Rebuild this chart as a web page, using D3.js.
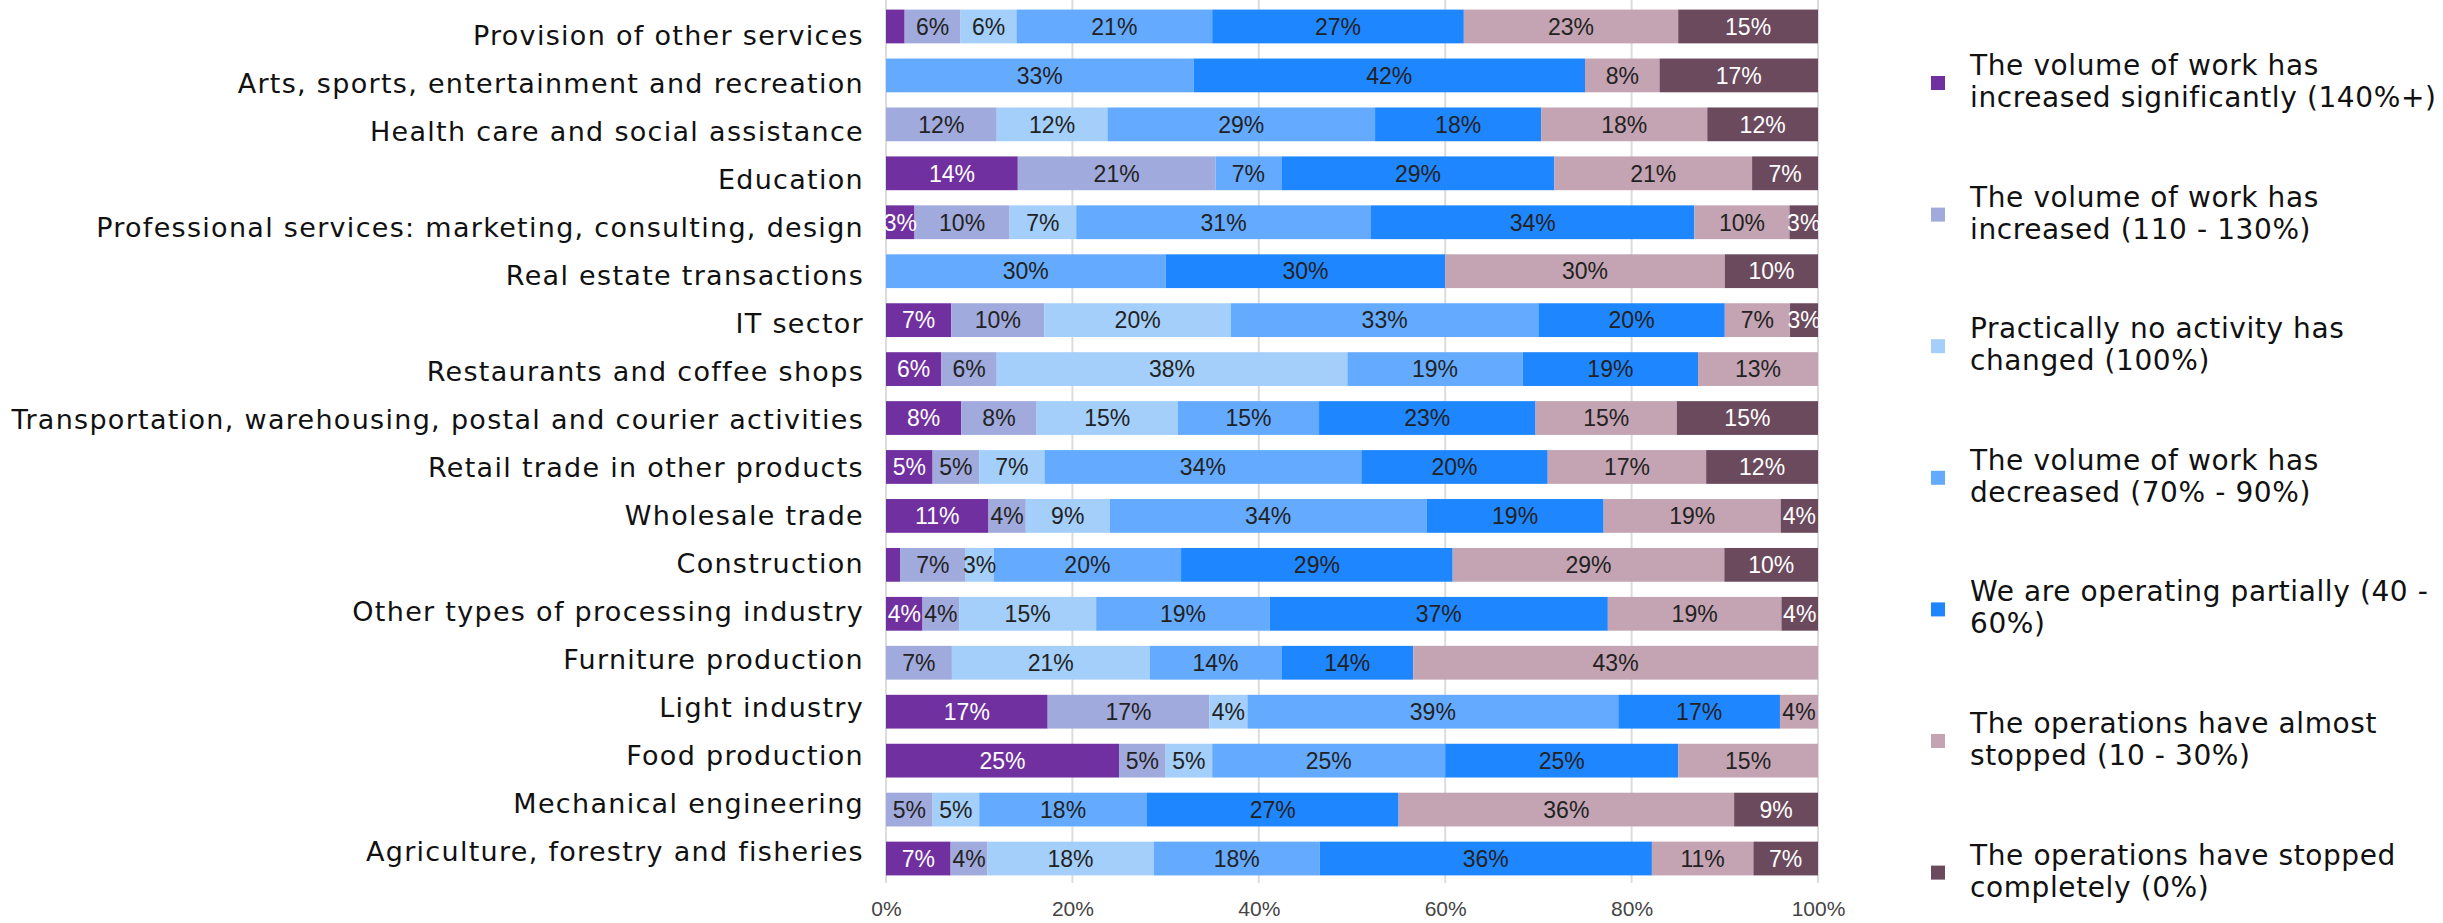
<!DOCTYPE html>
<html>
<head>
<meta charset="utf-8">
<script src="https://cdn.jsdelivr.net/npm/d3@7"></script>
<style>
  body { margin: 0; background: #fff; }
  .cat { font-family: "DejaVu Sans", sans-serif; font-size: 27px; letter-spacing: 1.3px; fill: #111; }
  .leg { font-family: "DejaVu Sans", sans-serif; font-size: 28px; letter-spacing: 0.6px; fill: #111; }
  .val { font-family: "Liberation Sans", Arial, sans-serif; font-size: 23px; }
  .tick text { font-family: "Liberation Sans", Arial, sans-serif; font-size: 21px; fill: #444; }
</style>
</head>
<body>
<div id="plot"></div>
<script>
// categories, top to bottom
const categories = [
  "Provision of other services",
  "Arts, sports, entertainment and recreation",
  "Health care and social assistance",
  "Education",
  "Professional services: marketing, consulting, design",
  "Real estate transactions",
  "IT sector",
  "Restaurants and coffee shops",
  "Transportation, warehousing, postal and courier activities",
  "Retail trade in other products",
  "Wholesale trade",
  "Construction",
  "Other types of processing industry",
  "Furniture production",
  "Light industry",
  "Food production",
  "Mechanical engineering",
  "Agriculture, forestry and fisheries"
];

// series values (% of respondents), same order as categories
const sigIncreased   = [2, 0, 0, 14, 3, 0, 7, 6, 8, 5, 11, 1.5, 4, 0, 17, 25, 0, 7];
const increased      = [6, 0, 12, 21, 10, 0, 10, 6, 8, 5, 4, 7, 4, 7, 17, 5, 5, 4];
const noChange       = [6, 0, 12, 0, 7, 0, 20, 38, 15, 7, 9, 3, 15, 21, 4, 5, 5, 18];
const decreased      = [21, 33, 29, 7, 31, 30, 33, 19, 15, 34, 34, 20, 19, 14, 39, 25, 18, 18];
const partially      = [27, 42, 18, 29, 34, 30, 20, 19, 23, 20, 19, 29, 37, 14, 17, 25, 27, 36];
const almostStopped  = [23, 8, 18, 21, 10, 30, 7, 13, 15, 17, 19, 29, 19, 43, 4, 15, 36, 11];
const stopped        = [15, 17, 12, 7, 3, 10, 3, 0, 15, 12, 4, 10, 4, 0, 0, 0, 9, 7];

const seriesKeys = ["s1", "s2", "s3", "s4", "s5", "s6", "s7"];
const seriesValues = [sigIncreased, increased, noChange, decreased, partially, almostStopped, stopped];
const legendLabels = [
  ["The volume of work has", "increased significantly (140%+)"],
  ["The volume of work has", "increased (110 - 130%)"],
  ["Practically no activity has", "changed (100%)"],
  ["The volume of work has", "decreased (70% - 90%)"],
  ["We are operating partially (40 -", "60%)"],
  ["The operations have almost", "stopped (10 - 30%)"],
  ["The operations have stopped", "completely (0%)"]
];
const colors = ["#7030A0", "#A0AADC", "#A3CFFA", "#64ABFF", "#1E86FF", "#C4A4B2", "#6B4A5E"];
const axisTicks = [0, 0.2, 0.4, 0.6, 0.8, 1];

// build rows for d3.stack
const rows = categories.map((c, i) => {
  const r = {cat: c};
  seriesKeys.forEach((k, j) => { r[k] = seriesValues[j][i]; });
  return r;
});

const W = 2443, H = 923;
const svg = d3.select("#plot").append("svg")
    .attr("width", W)
    .attr("height", H);

const x = d3.scaleLinear().domain([0, 1]).range([886, 1818]);
const y = d3.scaleBand().domain(categories).range([2, 883])
    .paddingInner(0.31).paddingOuter(0.155);
// category labels sit on a slightly tighter spacing than the bars
const yLab = d3.scalePoint().domain(categories).range([35, 851]);
const color = d3.scaleOrdinal().domain(seriesKeys).range(colors);

// grid lines
svg.append("g")
    .selectAll("line")
    .data(axisTicks)
    .enter()
    .append("line")
    .attr("x1", d => x(d)).attr("x2", d => x(d))
    .attr("y1", 0).attr("y2", 883)
    .attr("stroke", "#dcdcdc")
    .attr("stroke-width", 2);

const stacked = d3.stack().keys(seriesKeys).offset(d3.stackOffsetExpand)(rows);

const layer = svg.append("g")
    .selectAll("g")
    .data(stacked)
    .enter()
    .append("g")
    .attr("fill", d => color(d.key));

layer.selectAll("rect")
    .data(d => d)
    .enter()
    .append("rect")
    .attr("x", d => x(d[0]))
    .attr("y", d => y(d.data.cat))
    .attr("width", d => x(d[1]) - x(d[0]))
    .attr("height", y.bandwidth());

// value labels
stacked.forEach((s, j) => {
    svg.append("g")
        .selectAll("text")
        .data(s.filter(d => d.data[s.key] >= 3))
        .enter()
        .append("text")
        .attr("class", "val")
        .attr("x", d => x((d[0] + d[1]) / 2))
        .attr("y", d => y(d.data.cat) + y.bandwidth() / 2)
        .attr("dy", "0.36em")
        .attr("text-anchor", "middle")
        .attr("fill", (j === 0 || j === 6) ? "#fff" : "#222")
        .text(d => Math.round(d.data[s.key]) + "%");
});

// category labels
svg.append("g")
    .selectAll("text")
    .data(categories)
    .enter()
    .append("text")
    .attr("class", "cat")
    .attr("x", 864)
    .attr("y", d => yLab(d))
    .attr("dy", "0.36em")
    .attr("text-anchor", "end")
    .text(d => d);

// x axis
const xAxis = svg.append("g")
    .attr("transform", "translate(0,883)")
    .call(d3.axisBottom(x).tickValues(axisTicks).tickFormat(d3.format(".0%")).tickSize(0).tickPadding(18));
xAxis.select(".domain").remove();

// legend
const leg = svg.append("g")
    .selectAll("g")
    .data(legendLabels)
    .enter()
    .append("g")
    .attr("transform", (d, i) => "translate(0," + (83 + i * 131.6) + ")");

leg.append("rect")
    .attr("x", 1931).attr("y", -7)
    .attr("width", 14).attr("height", 14)
    .attr("fill", (d, i) => colors[i]);

leg.append("text")
    .attr("class", "leg")
    .attr("x", 1970)
    .selectAll("tspan")
    .data(d => d)
    .enter()
    .append("tspan")
    .attr("x", 1970)
    .attr("y", (d, i) => i === 0 ? -8 : 24)
    .text(d => d);
</script>
</body>
</html>
